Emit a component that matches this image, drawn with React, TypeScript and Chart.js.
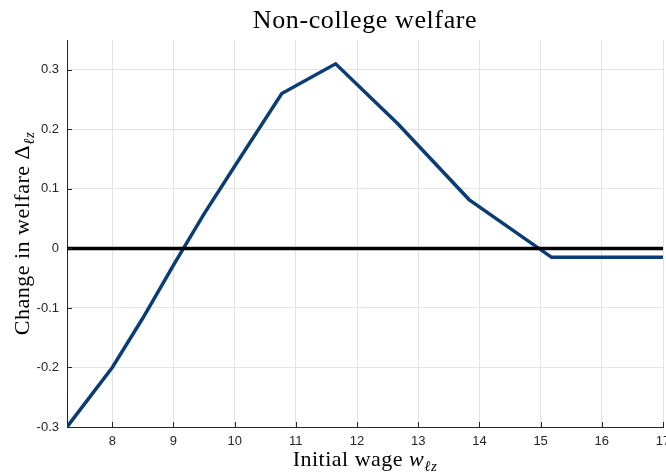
import React, { useEffect, useRef } from "react";
import { Chart, registerables } from "chart.js";

Chart.register(...registerables);

const wageX: number[] = [7.26, 7.6, 8.0, 8.5, 9.0, 9.5, 10.0, 10.77, 11.65, 12.67, 13.83, 15.18, 17.0];
const welfareY: number[] = [-0.3, -0.254, -0.2, -0.117, -0.028, 0.058, 0.138, 0.26, 0.31, 0.209, 0.082, -0.015, -0.015];
const zeroX: number[] = [7.26, 17.0];
const zeroY: number[] = [0, 0];
const xTicks: number[] = [8, 9, 10, 11, 12, 13, 14, 15, 16, 17];
const yTicks: number[] = [-0.3, -0.2, -0.1, 0, 0.1, 0.2, 0.3];
const titleText = "Non-college welfare";
const xTitleParts = [
  { t: "Initial wage ", it: false, sub: false },
  { t: "w", it: true, sub: false },
  { t: "ℓz", it: true, sub: true },
];
const yTitleParts = [
  { t: "Change in welfare Δ", it: false, sub: false },
  { t: "ℓz", it: true, sub: true },
];

const SERIF = '"Liberation Serif", "DejaVu Serif", serif';
const SANS = '"Liberation Sans", Arial, sans-serif';
const AXIS = "#262626";

type Part = { t: string; it: boolean; sub: boolean };

function drawParts(ctx: CanvasRenderingContext2D, parts: Part[], size: number, spacing: number) {
  const subSize = Math.round(size * 0.7);
  const fontOf = (p: Part) => `${p.it ? "italic " : ""}${p.sub ? subSize : size}px ${SERIF}`;
  (ctx as any).letterSpacing = `${spacing}px`;
  let total = 0;
  const widths = parts.map((p) => {
    ctx.font = fontOf(p);
    const w = ctx.measureText(p.t).width;
    total += w;
    return w;
  });
  let x = -total / 2;
  parts.forEach((p, i) => {
    ctx.font = fontOf(p);
    ctx.fillText(p.t, x, p.sub ? size * 0.22 : 0);
    x += widths[i];
  });
  (ctx as any).letterSpacing = "0px";
}

const decorPlugin = {
  id: "decor",
  afterDraw(chart: any) {
    const { ctx, chartArea, scales } = chart;
    const xs = scales.x;
    const ys = scales.y;
    ctx.save();
    ctx.strokeStyle = AXIS;
    ctx.lineWidth = 1;
    ctx.beginPath();
    xTicks.forEach((v) => {
      const px = Math.round(xs.getPixelForValue(v)) + 0.5;
      ctx.moveTo(px, chartArea.bottom);
      ctx.lineTo(px, chartArea.bottom - 5);
    });
    yTicks.forEach((v) => {
      const py = Math.round(ys.getPixelForValue(v)) + 0.5;
      ctx.moveTo(chartArea.left, py);
      ctx.lineTo(chartArea.left + 5, py);
    });
    ctx.stroke();
    ctx.fillStyle = "#000";
    ctx.textBaseline = "alphabetic";
    ctx.textAlign = "left";
    const cx = (chartArea.left + chartArea.right) / 2;
    ctx.save();
    ctx.translate(cx, 28);
    drawParts(ctx, [{ t: titleText, it: false, sub: false }], 26, 0.6);
    ctx.restore();
    ctx.save();
    ctx.translate(cx, 466);
    drawParts(ctx, xTitleParts, 22, 0.5);
    ctx.restore();
    ctx.save();
    ctx.translate(29, (chartArea.top + chartArea.bottom) / 2);
    ctx.rotate(-Math.PI / 2);
    drawParts(ctx, yTitleParts, 22, 0.5);
    ctx.restore();
    ctx.restore();
  },
};

export default function App() {
  const ref = useRef<HTMLCanvasElement | null>(null);
  useEffect(() => {
    document.body.style.margin = "0";
    const canvas = ref.current;
    if (!canvas) return;
    const chart = new Chart(canvas, {
      type: "line",
      data: {
        datasets: [
          {
            data: zeroX.map((x, i) => ({ x, y: zeroY[i] })),
            borderColor: "#000000",
            borderWidth: 3.5,
            pointRadius: 0,
            order: 0,
          },
          {
            data: wageX.map((x, i) => ({ x, y: welfareY[i] })),
            borderColor: "#0a3d73",
            borderWidth: 3.5,
            pointRadius: 0,
            tension: 0,
            order: 1,
          },
        ],
      },
      options: {
        animation: false,
        responsive: false,
        maintainAspectRatio: false,
        layout: { padding: { top: 40, right: 3, left: 0, bottom: 0 } },
        plugins: { legend: { display: false }, tooltip: { enabled: false }, title: { display: false } },
        scales: {
          x: {
            type: "linear",
            min: 7.26,
            max: 17,
            afterBuildTicks: (s: any) => {
              s.ticks = xTicks.map((v) => ({ value: v }));
            },
            afterFit: (s: any) => {
              s.height = 47;
              s.paddingLeft = 0;
              s.paddingRight = 0;
            },
            grid: { color: "#e3e3e3", lineWidth: 1, drawTicks: false },
            border: { display: true, color: AXIS, width: 1 },
            ticks: {
              padding: 7,
              color: AXIS,
              font: { family: SANS, size: 13 },
              maxRotation: 0,
              autoSkip: false,
              callback: (v: any) => String(v),
            },
          },
          y: {
            type: "linear",
            min: -0.3,
            max: 0.35,
            afterBuildTicks: (s: any) => {
              s.ticks = yTicks.map((v) => ({ value: v }));
            },
            afterFit: (s: any) => {
              s.width = 67;
              s.paddingTop = 0;
              s.paddingBottom = 0;
            },
            grid: { color: "#e3e3e3", lineWidth: 1, drawTicks: false },
            border: { display: true, color: AXIS, width: 1 },
            ticks: {
              padding: 8,
              color: AXIS,
              font: { family: SANS, size: 13 },
              autoSkip: false,
              callback: (v: any) => String(Number(Number(v).toFixed(1))),
            },
          },
        },
      },
      plugins: [decorPlugin],
    });
    return () => chart.destroy();
  }, []);
  return (
    <div style={{ width: 666, height: 474, background: "#fff" }}>
      <canvas ref={ref} width={666} height={474} style={{ display: "block" }} />
    </div>
  );
}
